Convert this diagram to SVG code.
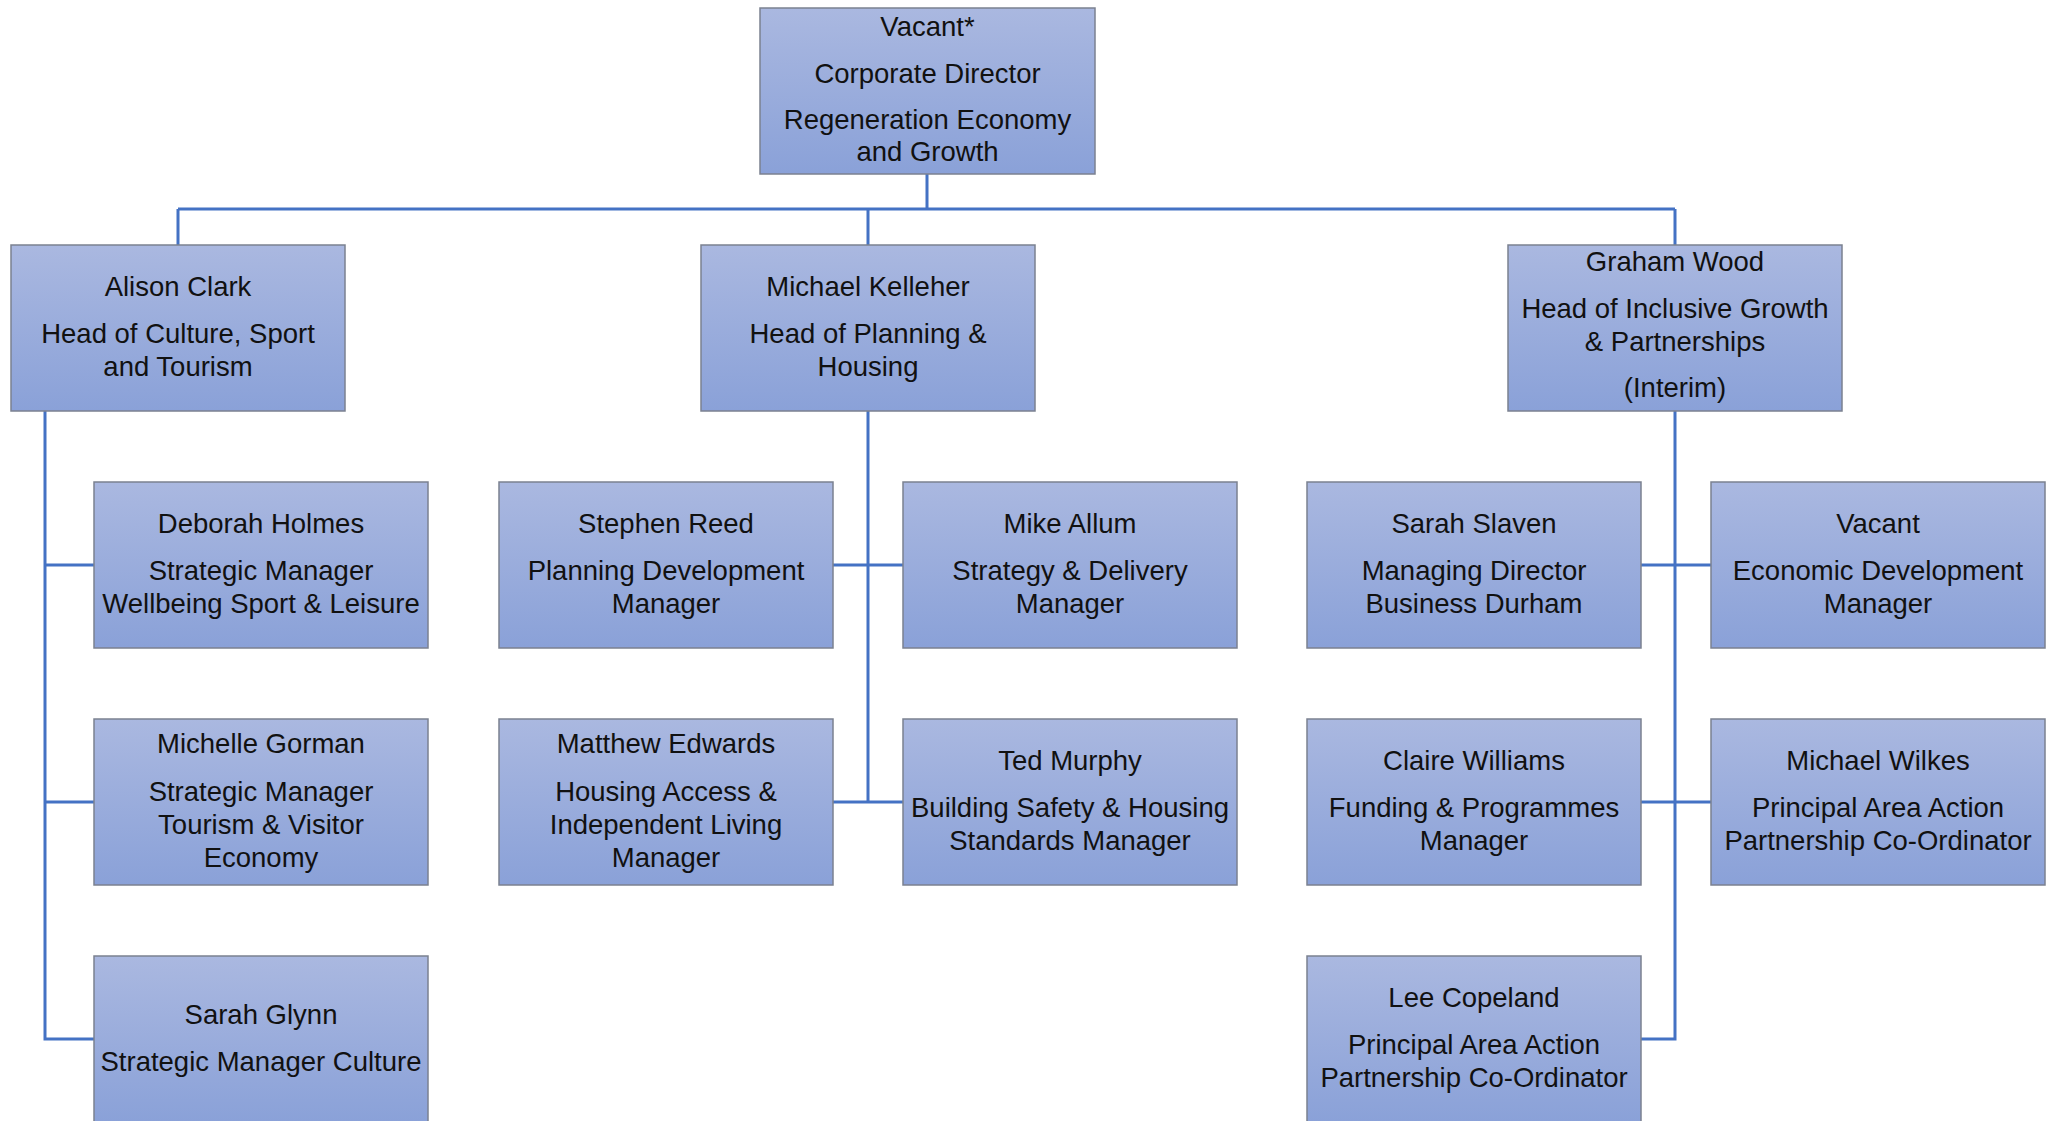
<svg xmlns="http://www.w3.org/2000/svg" width="2053" height="1121" viewBox="0 0 2053 1121">
<defs>
<linearGradient id="g" x1="0" y1="0" x2="0" y2="1">
<stop offset="0" stop-color="#AAB8E0"/>
<stop offset="1" stop-color="#8AA1D8"/>
</linearGradient>
<style>
.box{fill:url(#g);stroke:#7B8190;stroke-width:1.5}
.t{font-family:"Liberation Sans",Arial,sans-serif;font-size:27.5px;fill:#111;text-anchor:middle}
.c{fill:none;stroke:#4472C4;stroke-width:3}
</style>
</defs>
<rect width="2053" height="1121" fill="#fff"/>
<g id="connectors" class="c">
<path d="M927 174V209M178 209H1675M178 209V245M868 209V245M1675 209V245"/>
<path d="M45 411V1039H94M45 565H94M45 802H94"/>
<path d="M868 411V802M833 565H903M833 802H903"/>
<path d="M1675 411V1039H1641M1641 565H1711M1641 802H1711"/>
</g>
<g id="n-director"><rect class="box" x="760" y="8" width="335" height="166"/>
<text class="t" x="927.5" y="36">Vacant*</text><text class="t" x="927.5" y="83">Corporate Director</text><text class="t" x="927.5" y="129">Regeneration Economy</text><text class="t" x="927.5" y="161">and Growth</text></g>
<g id="n-alison"><rect class="box" x="11" y="245" width="334" height="166"/>
<text class="t" x="178" y="296">Alison Clark</text><text class="t" x="178" y="343">Head of Culture, Sport</text><text class="t" x="178" y="376">and Tourism</text></g>
<g id="n-kelleher"><rect class="box" x="701" y="245" width="334" height="166"/>
<text class="t" x="868" y="296">Michael Kelleher</text><text class="t" x="868" y="343">Head of Planning &amp;</text><text class="t" x="868" y="376">Housing</text></g>
<g id="n-graham"><rect class="box" x="1508" y="245" width="334" height="166"/>
<text class="t" x="1675" y="271">Graham Wood</text><text class="t" x="1675" y="318">Head of Inclusive Growth</text><text class="t" x="1675" y="351">&amp; Partnerships</text><text class="t" x="1675" y="397">(Interim)</text></g>
<g id="n-deborah"><rect class="box" x="94" y="482" width="334" height="166"/>
<text class="t" x="261" y="533">Deborah Holmes</text><text class="t" x="261" y="580">Strategic Manager</text><text class="t" x="261" y="613">Wellbeing Sport &amp; Leisure</text></g>
<g id="n-michelle"><rect class="box" x="94" y="719" width="334" height="166"/>
<text class="t" x="261" y="753">Michelle Gorman</text><text class="t" x="261" y="801">Strategic Manager</text><text class="t" x="261" y="834">Tourism &amp; Visitor</text><text class="t" x="261" y="867">Economy</text></g>
<g id="n-glynn"><rect class="box" x="94" y="956" width="334" height="166"/>
<text class="t" x="261" y="1024">Sarah Glynn</text><text class="t" x="261" y="1071">Strategic Manager Culture</text></g>
<g id="n-reed"><rect class="box" x="499" y="482" width="334" height="166"/>
<text class="t" x="666" y="533">Stephen Reed</text><text class="t" x="666" y="580">Planning Development</text><text class="t" x="666" y="613">Manager</text></g>
<g id="n-edwards"><rect class="box" x="499" y="719" width="334" height="166"/>
<text class="t" x="666" y="753">Matthew Edwards</text><text class="t" x="666" y="801">Housing Access &amp;</text><text class="t" x="666" y="834">Independent Living</text><text class="t" x="666" y="867">Manager</text></g>
<g id="n-allum"><rect class="box" x="903" y="482" width="334" height="166"/>
<text class="t" x="1070" y="533">Mike Allum</text><text class="t" x="1070" y="580">Strategy &amp; Delivery</text><text class="t" x="1070" y="613">Manager</text></g>
<g id="n-murphy"><rect class="box" x="903" y="719" width="334" height="166"/>
<text class="t" x="1070" y="770">Ted Murphy</text><text class="t" x="1070" y="817">Building Safety &amp; Housing</text><text class="t" x="1070" y="850">Standards Manager</text></g>
<g id="n-slaven"><rect class="box" x="1307" y="482" width="334" height="166"/>
<text class="t" x="1474" y="533">Sarah Slaven</text><text class="t" x="1474" y="580">Managing Director</text><text class="t" x="1474" y="613">Business Durham</text></g>
<g id="n-williams"><rect class="box" x="1307" y="719" width="334" height="166"/>
<text class="t" x="1474" y="770">Claire Williams</text><text class="t" x="1474" y="817">Funding &amp; Programmes</text><text class="t" x="1474" y="850">Manager</text></g>
<g id="n-copeland"><rect class="box" x="1307" y="956" width="334" height="166"/>
<text class="t" x="1474" y="1007">Lee Copeland</text><text class="t" x="1474" y="1054">Principal Area Action</text><text class="t" x="1474" y="1087">Partnership Co-Ordinator</text></g>
<g id="n-vacant"><rect class="box" x="1711" y="482" width="334" height="166"/>
<text class="t" x="1878" y="533">Vacant</text><text class="t" x="1878" y="580">Economic Development</text><text class="t" x="1878" y="613">Manager</text></g>
<g id="n-wilkes"><rect class="box" x="1711" y="719" width="334" height="166"/>
<text class="t" x="1878" y="770">Michael Wilkes</text><text class="t" x="1878" y="817">Principal Area Action</text><text class="t" x="1878" y="850">Partnership Co-Ordinator</text></g>
</svg>
